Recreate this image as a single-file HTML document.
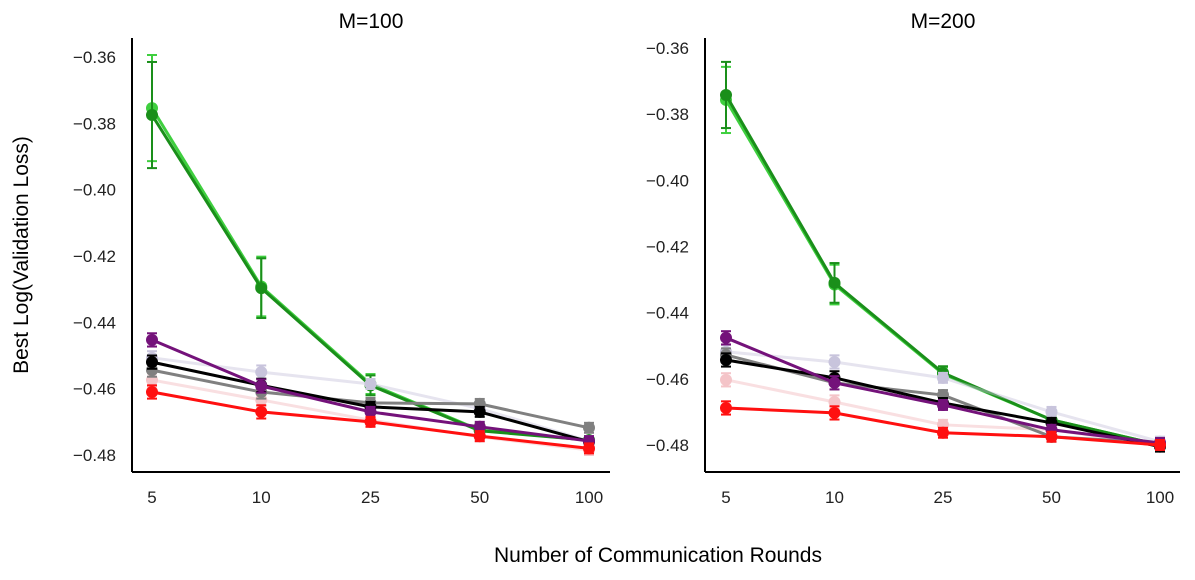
<!DOCTYPE html>
<html><head><meta charset="utf-8"><style>
body{margin:0;background:#fff}
svg{display:block;font-family:"Liberation Sans",sans-serif}
</style></head><body>
<svg id="chart" width="1195" height="580">
<text x="371" y="28" font-size="21" text-anchor="middle">M=100</text>
<text x="943" y="28" font-size="21" text-anchor="middle">M=200</text>
<text transform="translate(28,255) rotate(-90)" font-size="21" text-anchor="middle">Best Log(Validation Loss)</text>
<text x="658" y="562" font-size="21" text-anchor="middle">Number of Communication Rounds</text>
</svg>
<script>
const categories=["5","10","25","50","100"];
const yTicks=[-0.36,-0.38,-0.40,-0.42,-0.44,-0.46,-0.48];
const seriesNames=["lightgreen","green","lavender","pink","gray","black","purple","red"];
const seriesColors=["#3fcf3f","#1a8f1a","#c8c4dc","#f4c4c8","#808080","#000000","#74127a","#ff1010"];
const seriesLineOpacity=[1,1,0.45,0.55,1,1,1,1];
const m100_lightgreen=[-0.3754,-0.4292,-0.4586,-0.4725,-0.4755];
const m100_green=[-0.3775,-0.4297,-0.4590,-0.4727,-0.4755];
const m100_lavender=[-0.4507,-0.4550,-0.4586,-0.4660,-0.4758];
const m100_pink=[-0.4574,-0.4634,-0.4695,-0.4745,-0.4785];
const m100_gray=[-0.4544,-0.4610,-0.4643,-0.4646,-0.4718];
const m100_black=[-0.4520,-0.4590,-0.4655,-0.4670,-0.4760];
const m100_purple=[-0.4453,-0.4592,-0.4670,-0.4715,-0.4758];
const m100_red=[-0.4610,-0.4670,-0.4700,-0.4743,-0.4780];
const m200_lightgreen=[-0.3757,-0.4315,-0.4585,-0.4724,-0.4800];
const m200_green=[-0.3742,-0.4310,-0.4582,-0.4724,-0.4800];
const m200_lavender=[-0.4518,-0.4549,-0.4597,-0.4700,-0.4790];
const m200_pink=[-0.4603,-0.4670,-0.4739,-0.4754,-0.4800];
const m200_gray=[-0.4528,-0.4612,-0.4649,-0.4775,-0.4794];
const m200_black=[-0.4543,-0.4597,-0.4673,-0.4733,-0.4805];
const m200_purple=[-0.4476,-0.4612,-0.4679,-0.4754,-0.4794];
const m200_red=[-0.4688,-0.4703,-0.4763,-0.4775,-0.4800];
const m100_errGreen=[0.016,0.009,0.003,0.002,0.001];
const m200_errGreen=[0.010,0.006,0.002,0.001,0.001];
const errSmall=[0.002,0.002,0.0015,0.0015,0.0015];
const panels=[
 {key:"m100",x0:152,x1:589,yTop:57,yBot:455,axL:132,axR:610,data:{lightgreen:m100_lightgreen,green:m100_green,lavender:m100_lavender,pink:m100_pink,gray:m100_gray,black:m100_black,purple:m100_purple,red:m100_red},errG:m100_errGreen},
 {key:"m200",x0:726,x1:1160,yTop:48,yBot:445,axL:705,axR:1180,data:{lightgreen:m200_lightgreen,green:m200_green,lavender:m200_lavender,pink:m200_pink,gray:m200_gray,black:m200_black,purple:m200_purple,red:m200_red},errG:m200_errGreen}
];
const svg=document.getElementById('chart');
const NS="http://www.w3.org/2000/svg";
function mk(t,a,p){const e=document.createElementNS(NS,t);for(const k in a)e.setAttribute(k,a[k]);(p||svg).appendChild(e);return e;}
panels.forEach(p=>{
 const xs=i=>p.x0+(p.x1-p.x0)*i/(categories.length-1);
 const ys=v=>p.yTop+(v-(-0.36))/(-0.12)*(p.yBot-p.yTop);
 const g=mk('g',{});
 
 
 const ya=mk('line',{x1:p.axL,y1:38,x2:p.axL,y2:472,stroke:'#000','stroke-width':2},g);
 
 
 const xa=mk('line',{x1:p.axL,y1:472,x2:p.axR,y2:472,stroke:'#000','stroke-width':2},g);
 
 
 yTicks.forEach(t=>{const e=mk('text',{x:p.axL-16,y:ys(t)+6,'font-size':17,'text-anchor':'end',fill:'#222'},g);e.textContent=t.toFixed(2).replace('-','−');
  
  });
 categories.forEach((c,i)=>{const e=mk('text',{x:xs(i),y:503,'font-size':17,'text-anchor':'middle',fill:'#222'},g);e.textContent=c;
  
  });
 seriesNames.forEach((s,si)=>{
  const vals=p.data[s],col=seriesColors[si];
  const err=(s==='green'||s==='lightgreen')?p.errG:errSmall;
  const sg=mk('g',{},g);
  
  
  mk('polyline',{points:vals.map((v,i)=>xs(i)+','+ys(v)).join(' '),fill:'none',stroke:col,'stroke-width':3,'stroke-opacity':seriesLineOpacity[si]},sg);
  vals.forEach((v,i)=>{
   const x=xs(i),y1=ys(v-err[i]),y2=ys(v+err[i]);
   mk('line',{x1:x,y1:y1,x2:x,y2:y2,stroke:col,'stroke-width':2},sg);
   mk('line',{x1:x-5,y1:y1,x2:x+5,y2:y1,stroke:col,'stroke-width':2},sg);
   mk('line',{x1:x-5,y1:y2,x2:x+5,y2:y2,stroke:col,'stroke-width':2},sg);
   const c=mk('circle',{cx:x,cy:ys(v),r:6,fill:col},sg);
   
   
  });
 });
});
</script>
</body></html>
